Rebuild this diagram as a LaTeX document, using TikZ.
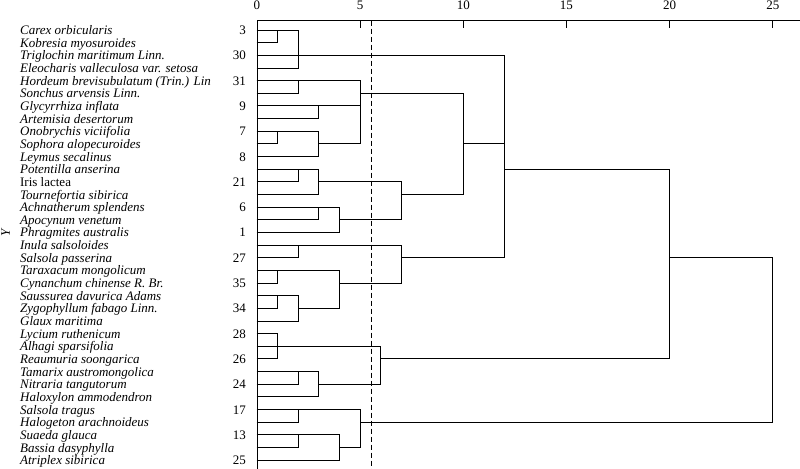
\documentclass[tikz,border=0pt]{standalone}
\usepackage{fontspec}
\setmainfont{Liberation Serif}
\usepackage{tikz}
\usetikzlibrary{positioning}
\tikzset{
    species/.style={anchor=base west, inner sep=0pt, font=\fontsize{13}{15}\selectfont\itshape},
    clusternum/.style={anchor=base east, inner sep=0pt, font=\fontsize{13}{15}\selectfont},
    ticklabel/.style={anchor=base, inner sep=0pt, font=\fontsize{13}{15}\selectfont},
    link/.style={-, line width=0.9pt, line cap=rect, color=black},
    axis/.style={-, line width=0.9pt, color=black}
}

\begin{document}
\begin{tikzpicture}[
    x=20.63pt, y=-12.65pt,
    cutline/.style={-, line width=0.9pt, dash pattern=on 5pt off 3pt}
]
    \useasboundingbox (-12.457,-2.372) rectangle (26.32,34.70);

    % Axis
    \draw[axis] (0,34.70) -- (0,-0.735) -- (26.32,-0.735);
    \draw[axis] (5,-0.735) -- (5,-0.158);
    \draw[axis] (10,-0.735) -- (10,-0.158);
    \draw[axis] (15,-0.735) -- (15,-0.158);
    \draw[axis] (20,-0.735) -- (20,-0.158);
    \draw[axis] (25,-0.735) -- (25,-0.158);
    \node[ticklabel] (t0) at (0,-1.64) {0};
    \node[ticklabel] (t5) at (5,-1.64) {5};
    \node[ticklabel] (t10) at (10,-1.64) {10};
    \node[ticklabel] (t15) at (15,-1.64) {15};
    \node[ticklabel] (t20) at (20,-1.64) {20};
    \node[ticklabel] (t25) at (25,-1.64) {25};
    \node[rotate=90, font=\fontsize{13}{15}\selectfont\itshape, inner sep=0pt] (ylab) at (-12.19,16.05) {Y};

    % Cut line
    \draw[cutline] (5.56,-0.735) -- (5.56,34.70);

    % Species
    \node[species] (carex) at (-11.49,0.36) {Carex orbicularis};
    \node[species] (kobresia) at (-11.49,1.36) {Kobresia myosuroides};
    \node[species] (triglochin) at (-11.49,2.36) {Triglochin maritimum Linn.};
    \node[species] (eleocharis) at (-11.49,3.36) {Eleocharis valleculosa var. setosa};
    \node[species] (hordeum) at (-11.49,4.36) {Hordeum brevisubulatum (Trin.) Lin};
    \node[species] (sonchus) at (-11.49,5.36) {Sonchus arvensis Linn.};
    \node[species] (glycyrrhiza) at (-11.49,6.36) {Glycyrrhiza inflata};
    \node[species] (artemisia) at (-11.49,7.36) {Artemisia desertorum};
    \node[species] (onobrychis) at (-11.49,8.36) {Onobrychis viciifolia};
    \node[species] (sophora) at (-11.49,9.36) {Sophora alopecuroides};
    \node[species] (leymus) at (-11.49,10.36) {Leymus secalinus};
    \node[species] (potentilla) at (-11.49,11.36) {Potentilla anserina};
    \node[species, font=\fontsize{13}{15}\selectfont\upshape] (iris) at (-11.49,12.36) {Iris lactea};
    \node[species] (tournefortia) at (-11.49,13.36) {Tournefortia sibirica};
    \node[species] (achnatherum) at (-11.49,14.36) {Achnatherum splendens};
    \node[species] (apocynum) at (-11.49,15.36) {Apocynum venetum};
    \node[species] (phragmites) at (-11.49,16.36) {Phragmites australis};
    \node[species] (inula) at (-11.49,17.36) {Inula salsoloides};
    \node[species] (passerina) at (-11.49,18.36) {Salsola passerina};
    \node[species] (taraxacum) at (-11.49,19.36) {Taraxacum mongolicum};
    \node[species] (cynanchum) at (-11.49,20.36) {Cynanchum chinense R. Br.};
    \node[species] (saussurea) at (-11.49,21.36) {Saussurea davurica Adams};
    \node[species] (zygophyllum) at (-11.49,22.36) {Zygophyllum fabago Linn.};
    \node[species] (glaux) at (-11.49,23.36) {Glaux maritima};
    \node[species] (lycium) at (-11.49,24.36) {Lycium ruthenicum};
    \node[species] (alhagi) at (-11.49,25.36) {Alhagi sparsifolia};
    \node[species] (reaumuria) at (-11.49,26.36) {Reaumuria soongarica};
    \node[species] (tamarix) at (-11.49,27.36) {Tamarix austromongolica};
    \node[species] (nitraria) at (-11.49,28.36) {Nitraria tangutorum};
    \node[species] (haloxylon) at (-11.49,29.36) {Haloxylon ammodendron};
    \node[species] (tragus) at (-11.49,30.36) {Salsola tragus};
    \node[species] (halogeton) at (-11.49,31.36) {Halogeton arachnoideus};
    \node[species] (suaeda) at (-11.49,32.36) {Suaeda glauca};
    \node[species] (bassia) at (-11.49,33.36) {Bassia dasyphylla};
    \node[species] (atriplex) at (-11.49,34.36) {Atriplex sibirica};

    % Cluster numbers
    \node[clusternum] (n3) at (-0.53,0.36) {3};
    \node[clusternum] (n30) at (-0.53,2.36) {30};
    \node[clusternum] (n31) at (-0.53,4.36) {31};
    \node[clusternum] (n9) at (-0.53,6.36) {9};
    \node[clusternum] (n7) at (-0.53,8.36) {7};
    \node[clusternum] (n8) at (-0.53,10.36) {8};
    \node[clusternum] (n21) at (-0.53,12.36) {21};
    \node[clusternum] (n6) at (-0.53,14.36) {6};
    \node[clusternum] (n1) at (-0.53,16.36) {1};
    \node[clusternum] (n27) at (-0.53,18.36) {27};
    \node[clusternum] (n35) at (-0.53,20.36) {35};
    \node[clusternum] (n34) at (-0.53,22.36) {34};
    \node[clusternum] (n28) at (-0.53,24.36) {28};
    \node[clusternum] (n26) at (-0.53,26.36) {26};
    \node[clusternum] (n24) at (-0.53,28.36) {24};
    \node[clusternum] (n17) at (-0.53,30.36) {17};
    \node[clusternum] (n13) at (-0.53,32.36) {13};
    \node[clusternum] (n25) at (-0.53,34.36) {25};

    % Dendrogram, upper group
    \draw[link] (0,0) -| (2,3) -- (0,3);
    \draw[link] (0,1) -| (1,0);
    \draw[link] (0,2) -| (12,18) -- (7,18);
    \draw[link] (0,4) -| (2,5) -- (0,5);
    \draw[link] (0,4) -| (5,9) -- (3,9);
    \draw[link] (0,6) -- (5,6);
    \draw[link] (3,6) |- (0,7);
    \draw[link] (0,8) -| (3,10) -- (0,10);
    \draw[link] (0,9) -| (1,8);
    \draw[link] (5,5) -| (10,13) -- (7,13);
    \draw[link] (10,9) -- (12,9);
    \draw[link] (0,11) -| (3,13) -- (0,13);
    \draw[link] (0,12) -| (2,11);
    \draw[link] (3,12) -| (7,15) -- (4,15);
    \draw[link] (0,14) -| (4,16) -- (0,16);
    \draw[link] (3,14) |- (0,15);
    \draw[link] (0,17) -| (7,20) -- (4,20);
    \draw[link] (0,18) -| (2,17);
    \draw[link] (0,19) -| (4,22) -- (2,22);
    \draw[link] (0,20) -| (1,19);
    \draw[link] (0,21) -| (2,23) -- (0,23);
    \draw[link] (0,22) -| (1,21);

    % Dendrogram, lower group
    \draw[link] (12,11) -| (20,26) -- (6,26);
    \draw[link] (0,24) -| (1,26) -- (0,26);
    \draw[link] (0,25) -| (6,28) -- (3,28);
    \draw[link] (0,27) -| (3,29) -- (0,29);
    \draw[link] (0,28) -| (2,27);
    \draw[link] (0,30) -| (5,33) -- (4,33);
    \draw[link] (0,31) -| (2,30);
    \draw[link] (0,32) -| (4,34) -- (0,34);
    \draw[link] (0,33) -| (2,32);
    \draw[link] (20,18) -| (25,31) -- (5,31);
\end{tikzpicture}
\end{document}
